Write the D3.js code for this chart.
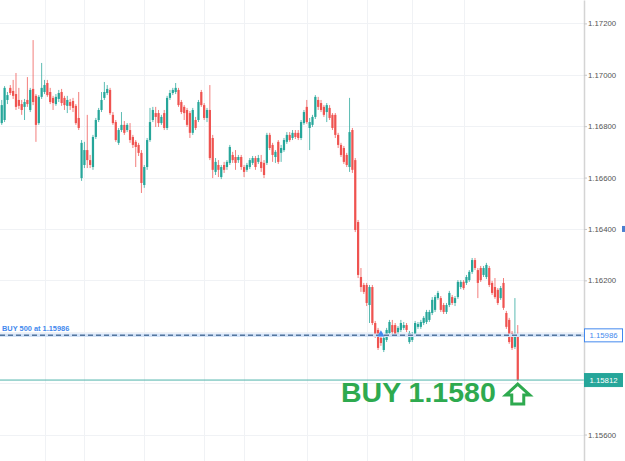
<!DOCTYPE html>
<html>
<head>
<meta charset="utf-8">
<script src="https://cdn.jsdelivr.net/npm/d3@7"></script>
<style>
  body { margin: 0; background: #fff; }
  svg { display: block; }
</style>
</head>
<body>
<script>
// EURUSD-style candles (oldest first)
var opens = [1.16812,1.16824,1.16902,1.16949,1.16937,1.16925,1.16902,1.16886,1.16875,1.16902,1.16863,1.16945,1.16918,1.16812,1.16914,1.16933,1.16968,1.16933,1.16910,1.16886,1.16906,1.16933,1.16910,1.16879,1.16894,1.16898,1.16879,1.16832,1.16598,1.16649,1.16707,1.16668,1.16641,1.16758,1.16824,1.16863,1.16910,1.16929,1.16941,1.16844,1.16816,1.16735,1.16785,1.16805,1.16785,1.16785,1.16758,1.16739,1.16727,1.16696,1.16571,1.16641,1.16746,1.16824,1.16851,1.16851,1.16812,1.16851,1.16793,1.16910,1.16929,1.16933,1.16941,1.16894,1.16875,1.16863,1.16851,1.16774,1.16824,1.16824,1.16933,1.16882,1.16832,1.16863,1.16754,1.16622,1.16649,1.16602,1.16649,1.16641,1.16657,1.16688,1.16680,1.16668,1.16680,1.16641,1.16630,1.16641,1.16657,1.16676,1.16661,1.16661,1.16657,1.16657,1.16766,1.16727,1.16680,1.16739,1.16696,1.16707,1.16739,1.16766,1.16754,1.16774,1.16774,1.16754,1.16812,1.16875,1.16793,1.16805,1.16836,1.16902,1.16890,1.16875,1.16855,1.16871,1.16844,1.16844,1.16766,1.16727,1.16715,1.16688,1.16641,1.16785,1.16668,1.16427,1.16213,1.16182,1.16182,1.16104,1.16174,1.16034,1.16007,1.15976,1.15929,1.15968,1.15995,1.16026,1.16026,1.15999,1.16007,1.16015,1.16026,1.15960,1.15968,1.15988,1.16019,1.16019,1.16034,1.16038,1.16046,1.16073,1.16085,1.16131,1.16131,1.16104,1.16077,1.16104,1.16135,1.16112,1.16135,1.16174,1.16194,1.16190,1.16201,1.16233,1.16279,1.16240,1.16248,1.16221,1.16213,1.16248,1.16190,1.16174,1.16163,1.16131,1.16190,1.16073,1.16046,1.15995,1.15941,1.15988];
var highs = [1.16902,1.16956,1.16933,1.16960,1.16980,1.17007,1.16949,1.16902,1.16906,1.16991,1.16949,1.17135,1.16925,1.16921,1.17046,1.16980,1.16980,1.16949,1.16918,1.16925,1.16941,1.16945,1.16918,1.16918,1.16906,1.16910,1.16886,1.16933,1.16746,1.16739,1.16844,1.16688,1.16766,1.16832,1.16871,1.16933,1.16972,1.16960,1.16949,1.16855,1.16824,1.16793,1.16855,1.16820,1.16812,1.16812,1.16766,1.16746,1.16735,1.16707,1.16649,1.16754,1.16871,1.16875,1.16875,1.16863,1.16844,1.16863,1.16918,1.16941,1.16949,1.16968,1.16949,1.16902,1.16882,1.16871,1.16859,1.16871,1.16836,1.16902,1.16941,1.16890,1.16871,1.16960,1.16766,1.16676,1.16668,1.16649,1.16661,1.16668,1.16727,1.16700,1.16707,1.16688,1.16688,1.16649,1.16657,1.16676,1.16684,1.16684,1.16688,1.16688,1.16668,1.16774,1.16774,1.16735,1.16707,1.16746,1.16727,1.16754,1.16777,1.16777,1.16785,1.16785,1.16785,1.16824,1.16863,1.16902,1.16832,1.16844,1.16921,1.16914,1.16902,1.16882,1.16890,1.16882,1.16851,1.16851,1.16774,1.16735,1.16723,1.16696,1.16910,1.16793,1.16676,1.16435,1.16248,1.16190,1.16190,1.16182,1.16182,1.16042,1.16015,1.15984,1.15984,1.16015,1.16046,1.16046,1.16034,1.16022,1.16046,1.16038,1.16034,1.16003,1.15999,1.16042,1.16038,1.16046,1.16061,1.16085,1.16085,1.16135,1.16143,1.16159,1.16139,1.16112,1.16112,1.16159,1.16143,1.16139,1.16201,1.16201,1.16201,1.16221,1.16240,1.16287,1.16287,1.16248,1.16256,1.16256,1.16268,1.16256,1.16198,1.16209,1.16170,1.16178,1.16209,1.16081,1.16054,1.16003,1.16131,1.16026];
var lows = [1.16805,1.16816,1.16886,1.16921,1.16906,1.16863,1.16867,1.16844,1.16824,1.16875,1.16855,1.16882,1.16739,1.16805,1.16906,1.16925,1.16914,1.16886,1.16863,1.16879,1.16894,1.16879,1.16863,1.16851,1.16863,1.16855,1.16805,1.16785,1.16587,1.16637,1.16637,1.16637,1.16630,1.16750,1.16816,1.16855,1.16902,1.16921,1.16844,1.16805,1.16739,1.16727,1.16777,1.16766,1.16777,1.16735,1.16715,1.16641,1.16684,1.16540,1.16560,1.16630,1.16739,1.16816,1.16797,1.16797,1.16805,1.16785,1.16785,1.16902,1.16921,1.16925,1.16875,1.16847,1.16824,1.16797,1.16754,1.16766,1.16785,1.16816,1.16875,1.16824,1.16816,1.16668,1.16598,1.16610,1.16602,1.16594,1.16618,1.16630,1.16649,1.16657,1.16630,1.16657,1.16630,1.16602,1.16622,1.16633,1.16649,1.16630,1.16653,1.16622,1.16598,1.16649,1.16707,1.16661,1.16657,1.16653,1.16661,1.16700,1.16731,1.16739,1.16746,1.16750,1.16746,1.16746,1.16805,1.16809,1.16707,1.16797,1.16828,1.16863,1.16855,1.16836,1.16816,1.16824,1.16785,1.16754,1.16715,1.16680,1.16653,1.16641,1.16622,1.16618,1.16388,1.16209,1.16155,1.16147,1.16100,1.16034,1.16026,1.15976,1.15929,1.15945,1.15921,1.15960,1.15988,1.15991,1.15980,1.15984,1.15999,1.16007,1.15999,1.15953,1.15960,1.15980,1.16011,1.16011,1.16026,1.16030,1.16038,1.16065,1.16077,1.16124,1.16077,1.16069,1.16069,1.16096,1.16104,1.16100,1.16128,1.16166,1.16163,1.16182,1.16194,1.16225,1.16240,1.16131,1.16194,1.16213,1.16205,1.16174,1.16143,1.16128,1.16104,1.16124,1.16085,1.16011,1.15953,1.15929,1.15933,1.15808];
var closes = [1.16882,1.16949,1.16921,1.16929,1.16918,1.16875,1.16879,1.16863,1.16894,1.16886,1.16941,1.16894,1.16805,1.16914,1.16949,1.16960,1.16921,1.16894,1.16890,1.16914,1.16929,1.16890,1.16882,1.16902,1.16879,1.16871,1.16812,1.16793,1.16735,1.16707,1.16668,1.16649,1.16758,1.16824,1.16863,1.16902,1.16933,1.16945,1.16851,1.16812,1.16746,1.16785,1.16805,1.16774,1.16805,1.16746,1.16727,1.16719,1.16696,1.16579,1.16641,1.16746,1.16816,1.16863,1.16836,1.16812,1.16836,1.16793,1.16910,1.16929,1.16941,1.16949,1.16882,1.16855,1.16851,1.16805,1.16774,1.16863,1.16793,1.16894,1.16882,1.16832,1.16863,1.16676,1.16630,1.16661,1.16630,1.16641,1.16630,1.16661,1.16719,1.16668,1.16657,1.16680,1.16641,1.16622,1.16649,1.16668,1.16676,1.16641,1.16676,1.16637,1.16610,1.16766,1.16715,1.16688,1.16700,1.16661,1.16715,1.16746,1.16766,1.16746,1.16774,1.16758,1.16754,1.16816,1.16855,1.16816,1.16816,1.16836,1.16914,1.16875,1.16863,1.16844,1.16882,1.16832,1.16793,1.16766,1.16727,1.16688,1.16661,1.16649,1.16777,1.16630,1.16396,1.16221,1.16174,1.16155,1.16112,1.16174,1.16034,1.15980,1.15937,1.15956,1.15976,1.16007,1.16038,1.15999,1.15988,1.16015,1.16034,1.16026,1.16007,1.15995,1.15980,1.16034,1.16030,1.16038,1.16054,1.16077,1.16077,1.16124,1.16135,1.16151,1.16085,1.16077,1.16104,1.16151,1.16112,1.16131,1.16194,1.16194,1.16170,1.16213,1.16233,1.16279,1.16248,1.16190,1.16201,1.16248,1.16260,1.16182,1.16151,1.16135,1.16112,1.16170,1.16093,1.16019,1.15960,1.15937,1.15988,1.15812];

var priceTicks = [1.172, 1.170, 1.168, 1.166, 1.164, 1.162, 1.160, 1.158, 1.156];
var hiddenTicks = [1.160, 1.158];      // covered by the price tags
var gridCandles = [15, 29, 50, 71, 85, 107, 128, 144, 162];

var buyPrice = 1.15986;
var lastPrice = 1.15812;
var entryCandle = 133;
var buyText = 'BUY 500 at 1.15986';
var callText = 'BUY 1.1580';

var width = 625;
var height = 461;
var axisX = 584;

var upColor = '#26a69a';
var downColor = '#ef5350';
var blue = '#4389ee';
var green = '#2eaa4f';

var candles = opens.map(function(o, i) {
  return {i: i, o: o, h: highs[i], l: lows[i], c: closes[i]};
});

var x = d3.scaleBand()
    .domain(d3.range(candles.length))
    .range([0, 519.5])
    .padding(0.22);

var y = d3.scaleLinear()
    .domain([1.15497, 1.17291])
    .range([height, 0]);

var svg = d3.select('body')
  .append('svg')
    .attr('width', width)
    .attr('height', height)
    .style('font-family', '"Liberation Sans", Arial, sans-serif');

// grid
svg.append('g')
  .selectAll('line')
  .data(priceTicks)
  .join('line')
    .attr('x1', 0).attr('x2', axisX)
    .attr('y1', function(d) { return Math.round(y(d)) + 0.5; })
    .attr('y2', function(d) { return Math.round(y(d)) + 0.5; })
    .attr('stroke', '#f0f2f5');

svg.append('g')
  .selectAll('line')
  .data(gridCandles)
  .join('line')
    .attr('x1', function(d) { return Math.round(x(d) + x.bandwidth() / 2) + 0.5; })
    .attr('x2', function(d) { return Math.round(x(d) + x.bandwidth() / 2) + 0.5; })
    .attr('y1', 0).attr('y2', height)
    .attr('stroke', '#f0f2f5');

// candles
var cg = svg.append('g');
var color = function(d) { return d.c >= d.o ? upColor : downColor; };

cg.selectAll('.wick')
  .data(candles)
  .join('line')
    .attr('class', 'wick')
    .attr('x1', function(d) { return x(d.i) + x.bandwidth() / 2; })
    .attr('x2', function(d) { return x(d.i) + x.bandwidth() / 2; })
    .attr('y1', function(d) { return y(d.h); })
    .attr('y2', function(d) { return y(d.l); })
    .attr('stroke', color)
    .attr('stroke-opacity', 0.75)
    .attr('stroke-width', 1);

cg.selectAll('.body')
  .data(candles)
  .join('rect')
    .attr('class', 'body')
    .attr('x', function(d) { return x(d.i); })
    .attr('width', x.bandwidth())
    .attr('y', function(d) { return y(Math.max(d.o, d.c)); })
    .attr('height', function(d) { return Math.max(1, Math.abs(y(d.o) - y(d.c))); })
    .attr('fill', color);

// last price line
svg.append('line')
    .attr('x1', 0).attr('x2', axisX)
    .attr('y1', y(lastPrice)).attr('y2', y(lastPrice))
    .attr('stroke', '#4fb3aa')
    .attr('stroke-width', 1);

// buy order line
svg.append('line')
    .attr('x1', 0).attr('x2', axisX)
    .attr('y1', y(buyPrice)).attr('y2', y(buyPrice))
    .attr('stroke', '#d2e2f7')
    .attr('stroke-width', 3.5);
svg.append('line')
    .attr('x1', 0).attr('x2', axisX)
    .attr('y1', y(buyPrice)).attr('y2', y(buyPrice))
    .attr('stroke', '#55779f')
    .attr('stroke-width', 1.5)
    .attr('stroke-dasharray', '5,3');

svg.append('text')
    .attr('x', 2)
    .attr('y', y(buyPrice) - 4)
    .attr('fill', blue)
    .attr('font-size', 7.4)
    .attr('font-weight', 'bold')
    .text(buyText);

// entry marker
svg.append('path')
    .attr('d', d3.symbol(d3.symbolTriangle, 22))
    .attr('transform', 'translate(' + (x(entryCandle) + x.bandwidth() / 2) + ',' + (y(buyPrice) - 1) + ')')
    .attr('fill', blue);

// price axis
var axis = d3.axisRight(y)
    .tickValues(priceTicks.filter(function(d) { return hiddenTicks.indexOf(d) < 0; }))
    .tickFormat(d3.format('.5f'))
    .tickSize(3)
    .tickSizeOuter(0);

var ag = svg.append('g')
    .attr('transform', 'translate(' + axisX + ',0)')
    .call(axis);
ag.select('.domain').attr('stroke', '#d4d4d4').attr('stroke-width', 1.5);
ag.selectAll('.tick line').attr('stroke', '#c8c8c8');
ag.selectAll('.tick text')
    .attr('fill', '#555')
    .attr('font-size', 7.8)
    .attr('x', 4)
    .style('font-family', '"Liberation Sans", Arial, sans-serif');

// price tags
function tag(price, fill, stroke, textColor) {
  var g = svg.append('g').attr('transform', 'translate(' + (axisX + 0.5) + ',' + y(price) + ')');
  g.append('rect')
      .attr('x', 0).attr('y', -6.5)
      .attr('width', 38).attr('height', 13)
      .attr('fill', fill)
      .attr('stroke', stroke);
  g.append('text')
      .attr('x', 19).attr('y', 0)
      .attr('dy', '0.35em')
      .attr('text-anchor', 'middle')
      .attr('font-size', 7.8)
      .attr('fill', textColor)
      .text(d3.format('.5f')(price));
}
tag(buyPrice, '#fff', blue, blue);
tag(lastPrice, upColor, upColor, '#fff');

// small clipped marker on the right edge
svg.append('rect')
    .attr('x', 622).attr('y', y(1.1640) - 3)
    .attr('width', 3).attr('height', 6)
    .attr('fill', '#4a7fd0');

// call-out
svg.append('text')
    .attr('x', 341)
    .attr('y', 402)
    .attr('fill', green)
    .attr('font-size', 28.5)
    .attr('font-weight', 'bold')
    .text(callText);

var ax = x(candles.length - 1) + x.bandwidth() / 2;
var at = y(lastPrice) + 4;
svg.append('path')
    .attr('d', 'M' + ax + ',' + at +
               'L' + (ax + 12) + ',' + (at + 11) +
               'L' + (ax + 6) + ',' + (at + 11) +
               'L' + (ax + 6) + ',' + (at + 20) +
               'L' + (ax - 6) + ',' + (at + 20) +
               'L' + (ax - 6) + ',' + (at + 11) +
               'L' + (ax - 12) + ',' + (at + 11) + 'Z')
    .attr('fill', '#fff')
    .attr('stroke', green)
    .attr('stroke-width', 3)
    .attr('stroke-linejoin', 'miter');
</script>
</body>
</html>
